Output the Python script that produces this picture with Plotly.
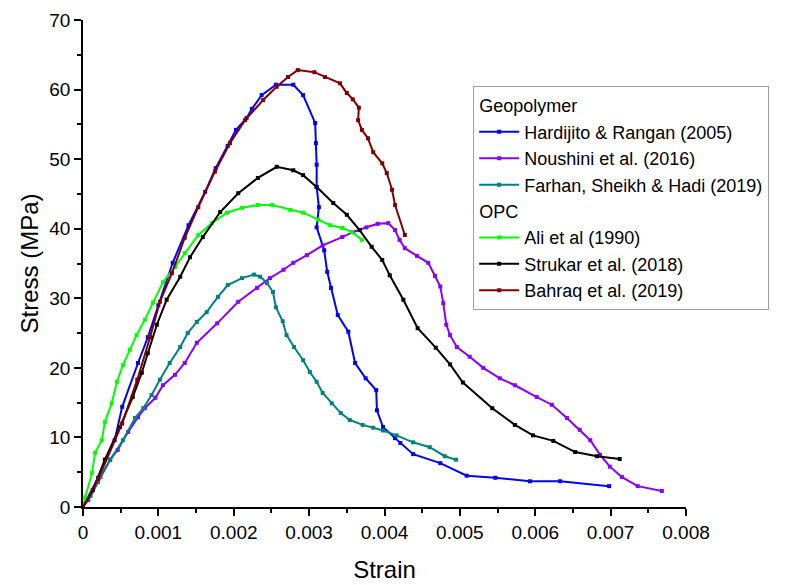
import plotly.graph_objects as go

# ---------------- data ----------------
hard_x = [0, 0.0002, 0.00042, 0.00052, 0.00073, 0.00086, 0.001, 0.00119, 0.0014, 0.00162, 0.00176, 0.00192,
          0.00203, 0.00217, 0.00224, 0.00237, 0.00256, 0.00279, 0.00292, 0.00308, 0.00309, 0.0031, 0.0031,
          0.00313, 0.0031, 0.0032, 0.00324, 0.00329, 0.00338, 0.00352, 0.00361, 0.00375, 0.00389, 0.0039,
          0.00398, 0.00414, 0.00421, 0.00438, 0.00474, 0.00509, 0.00547, 0.00593, 0.00633, 0.00698]
hard_y = [0, 4.2, 9.6, 14.4, 20.7, 24.4, 29, 35.1, 40.5, 45.3, 48.7, 51.9,
          54.2, 55.9, 57.2, 59.2, 60.7, 60.7, 59.2, 55.2, 52.3, 49.2, 46,
          43.1, 40.2, 36.9, 33.8, 31.5, 27.6, 25.2, 20.7, 18.5, 16.8, 13.9,
          11.5, 9.9, 9.2, 7.6, 6.3, 4.5, 4.2, 3.7, 3.7, 3.0]

nous_x = [0, 0.00007, 0.00023, 0.00036, 0.00046, 0.0006, 0.00073, 0.00082, 0.00096, 0.00106, 0.00122,
          0.00135, 0.00151, 0.00178, 0.00206, 0.00231, 0.00248, 0.00266, 0.00279, 0.00297, 0.00318,
          0.00344, 0.00358, 0.00376, 0.00391, 0.00405, 0.00414, 0.0042, 0.00427, 0.00443, 0.00458,
          0.00467, 0.00474, 0.00478, 0.00482, 0.00487, 0.00496, 0.00513, 0.00531, 0.00553, 0.00573,
          0.00602, 0.00622, 0.00642, 0.00659, 0.00673, 0.00686, 0.00699, 0.00715, 0.00736, 0.00768]
nous_y = [0, 1.0, 4.3, 6.8, 8.2, 10.8, 12.9, 14.2, 15.7, 17.5, 19,
          20.7, 23.6, 26.4, 29.5, 31.5, 32.9, 34.1, 35.1, 36.2, 37.6,
          38.8, 39.5, 40.2, 40.7, 40.8, 39.8, 38.4, 37.2, 36.1, 35.1,
          33.2, 31.7, 29.3, 26.2, 24.7, 23, 21.6, 20, 18.5, 17.5,
          15.8, 14.7, 12.8, 11.1, 9.6, 7.5, 5.8, 4.3, 3.0, 2.3]

farh_x = [0, 0.0001, 0.0002, 0.00036, 0.00053, 0.00069, 0.0008, 0.00091, 0.00102, 0.00115, 0.00129,
          0.00139, 0.00151, 0.00164, 0.00179, 0.00192, 0.00211, 0.00227, 0.00235, 0.00244, 0.00252,
          0.00256, 0.00265, 0.0027, 0.0028, 0.00292, 0.00301, 0.0031, 0.00318, 0.0033, 0.00342,
          0.00354, 0.00371, 0.00385, 0.00398, 0.00416, 0.00438, 0.0046, 0.0048, 0.00495]
farh_y = [0, 1.6, 3.6, 6.8, 9.6, 12.8, 14.2, 16.1, 18.3, 20.7, 23,
          25, 26.6, 28, 30.2, 31.9, 32.9, 33.4, 33.1, 32.2, 30.9,
          28.7, 26.7, 24.7, 23, 21.1, 19.4, 18, 16.4, 14.9, 13.5,
          12.5, 11.8, 11.4, 11.0, 10.3, 9.3, 8.6, 7.3, 6.8]

ali_x = [0, 0.00003, 0.00012, 0.00016, 0.00025, 0.00029, 0.00038, 0.00045, 0.00053, 0.00062, 0.00071,
         0.00082, 0.00093, 0.00106, 0.00122, 0.00135, 0.00153, 0.00171, 0.00191, 0.00211, 0.00232,
         0.00251, 0.00275, 0.00292, 0.00312, 0.00328, 0.00344, 0.00357, 0.0037]
ali_y = [0, 1.4, 4.9, 7.8, 9.6, 12.2, 14.9, 18, 20.4, 22.6, 24.7,
         26.9, 29.4, 32.3, 34.5, 36.5, 39.1, 40.8, 42.3, 43, 43.4,
         43.4, 42.7, 42.3, 41.3, 40.5, 40.1, 39.5, 38.4]

stru_x = [0, 0.00013, 0.00029, 0.00049, 0.00066, 0.00078, 0.00086, 0.00098, 0.00111, 0.00129, 0.00142,
          0.00159, 0.00182, 0.00206, 0.00232, 0.00257, 0.00279, 0.00292, 0.0031, 0.00332, 0.0035,
          0.00367, 0.00383, 0.00397, 0.00407, 0.00425, 0.00444, 0.00468, 0.00487, 0.00504, 0.00543,
          0.00573, 0.00597, 0.00624, 0.00653, 0.00682, 0.00712]
stru_y = [0, 2.4, 6.8, 11.5, 15.8, 19.3, 22.1, 26.2, 29.8, 33.1, 35.9,
          38.8, 42.4, 45.1, 47.3, 48.9, 48.4, 47.7, 46, 43.7, 42,
          39.8, 37.4, 35.5, 33.3, 29.8, 25.7, 22.9, 20.5, 17.9, 14.2,
          11.8, 10.3, 9.5, 7.9, 7.3, 6.9]

bahr_x = [0, 0.0002, 0.00052, 0.00072, 0.00089, 0.00102, 0.00118, 0.00135, 0.00153, 0.00175, 0.00195,
          0.00215, 0.00239, 0.00257, 0.00272, 0.00285, 0.00307, 0.00321, 0.00341, 0.0035, 0.00358,
          0.00366, 0.00365, 0.0037, 0.00378, 0.00385, 0.00397, 0.00403, 0.0041, 0.00414, 0.00427]
bahr_y = [0, 4, 12, 18.3, 24.4, 29.5, 33.6, 38.7, 43.1, 48.2, 52.3,
          55.6, 58.5, 60.4, 61.8, 62.8, 62.5, 61.8, 60.9, 59.5, 58.6,
          57.4, 55.6, 54.2, 53, 51, 49.4, 48, 45.6, 43.4, 39.1]

x_ticks = [0, 0.001, 0.002, 0.003, 0.004, 0.005, 0.006, 0.007, 0.008]
x_tick_labels = ["0", "0.001", "0.002", "0.003", "0.004", "0.005", "0.006", "0.007", "0.008"]
y_ticks = [0, 10, 20, 30, 40, 50, 60, 70]

series = [
    ("Hardijito & Rangan (2005)", hard_x, hard_y, "#0000FF", "geo", "Geopolymer"),
    ("Noushini et al. (2016)", nous_x, nous_y, "#8A00FF", "geo", "Geopolymer"),
    ("Farhan, Sheikh & Hadi (2019)", farh_x, farh_y, "#008080", "geo", "Geopolymer"),
    ("Ali et al (1990)", ali_x, ali_y, "#00FF00", "opc", "OPC"),
    ("Strukar et al. (2018)", stru_x, stru_y, "#000000", "opc", "OPC"),
    ("Bahraq et al. (2019)", bahr_x, bahr_y, "#800000", "opc", "OPC"),
]

FONT = "Liberation Sans, Arial, sans-serif"
LEG = 18

fig = go.Figure()
for name, xs, ys, col, grp, gtitle in series:
    fig.add_trace(go.Scatter(
        x=xs, y=ys, name=name, mode="lines+markers",
        line=dict(color=col, width=2),
        marker=dict(symbol="square", size=4, color=col),
        legendgroup=grp,
        legendgrouptitle=dict(text=gtitle, font=dict(size=LEG, color="black", family=FONT)),
    ))

axis_common = dict(
    showgrid=False, zeroline=False, showline=True, linecolor="black", linewidth=1.5,
    ticks="outside", ticklen=7, tickwidth=1.5, tickcolor="black",
    tickfont=dict(size=19, color="black", family=FONT),
    mirror=False, automargin=False,
)

fig.update_xaxes(
    range=[0, 0.008], tickvals=x_ticks, ticktext=x_tick_labels,
    title=dict(text="Strain", font=dict(size=24, color="black", family=FONT), standoff=20),
    minor=dict(ticks="outside", ticklen=4, tickwidth=1.5, tickcolor="black", dtick=0.0005),
    **axis_common,
)
fig.update_yaxes(
    range=[0, 70], tickvals=y_ticks,
    title=dict(text="Stress (MPa)", font=dict(size=24, color="black", family=FONT), standoff=4),
    minor=dict(ticks="outside", ticklen=4, tickwidth=1.5, tickcolor="black", dtick=5),
    **axis_common,
)

fig.update_layout(
    width=791, height=585,
    margin=dict(l=83, r=105, t=20, b=78),
    plot_bgcolor="white", paper_bgcolor="white",
    font=dict(family=FONT, color="black"),
    legend=dict(
        x=0.647, y=0.864, xanchor="left", yanchor="top",
        bgcolor="white", bordercolor="#A0A0A0", borderwidth=1,
        font=dict(size=LEG, color="black", family=FONT),
        tracegroupgap=0, itemwidth=40,
    ),
)

fig.write_html("out.html")
